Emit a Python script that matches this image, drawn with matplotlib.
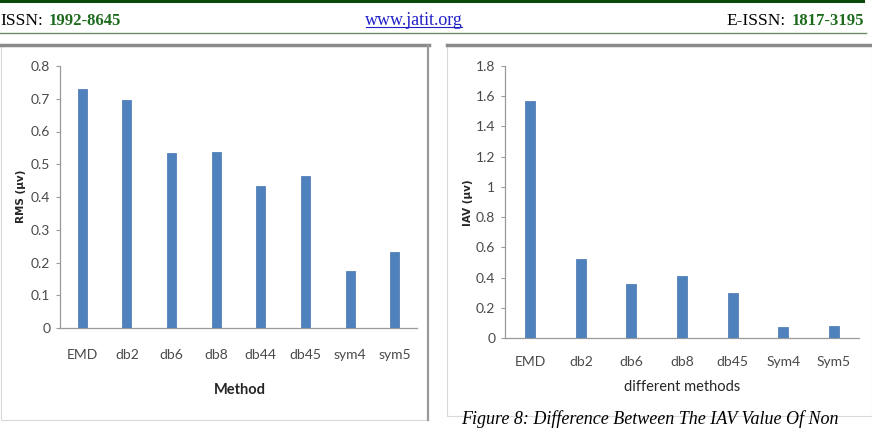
import matplotlib
matplotlib.use("Agg")
import matplotlib.pyplot as plt
from matplotlib.patches import Rectangle
from matplotlib.lines import Line2D

# ---- data ----
rms_methods = ["EMD", "db2", "db6", "db8", "db44", "db45", "sym4", "sym5"]
rms_values = [0.73, 0.695, 0.533, 0.538, 0.433, 0.465, 0.175, 0.232]
rms_yticks = [0, 0.1, 0.2, 0.3, 0.4, 0.5, 0.6, 0.7, 0.8]
rms_yticklabels = ["0", "0.1", "0.2", "0.3", "0.4", "0.5", "0.6", "0.7", "0.8"]

iav_methods = ["EMD", "db2", "db6", "db8", "db45", "Sym4", "Sym5"]
iav_values = [1.57, 0.52, 0.355, 0.41, 0.30, 0.075, 0.08]
iav_yticks = [0, 0.2, 0.4, 0.6, 0.8, 1.0, 1.2, 1.4, 1.6, 1.8]
iav_yticklabels = ["0", "0.2", "0.4", "0.6", "0.8", "1", "1.2", "1.4", "1.6", "1.8"]

W, H = 872, 428
fig = plt.figure(figsize=(W / 100, H / 100), dpi=100)
fig.patch.set_facecolor("white")

def fx(px):
    return px / W

def fy(py):
    return 1 - py / H

NARROW = ["Lato", "DejaVu Sans"]
SERIF = ["Liberation Serif", "DejaVu Serif"]
BAR = "#4F81BD"
AXC = "#9A9A9A"
TXT = "#4A4A4A"
HFS = 12.5

# ---- page header ----
fig.add_artist(Line2D([fx(0), fx(863)], [fy(1.2), fy(1.2)], color="#0B4A0B", lw=2.2))
fig.add_artist(Line2D([fx(0), fx(866)], [fy(32.5), fy(32.5)], color="#6E8B6E", lw=1.0))
fig.text(fx(0), fy(25), "ISSN:", family=SERIF, fontsize=HFS, color="black", va="baseline", ha="left")
fig.text(fx(49), fy(25), "1992-8645", family=SERIF, fontsize=HFS - 0.5, color="#1E6B1E",
         fontweight="bold", va="baseline", ha="left")
fig.text(fx(414), fy(25), "www.jatit.org", family=SERIF, fontsize=HFS + 0.5, color="#2020C8",
         va="baseline", ha="center")
fig.add_artist(Line2D([fx(366), fx(462)], [fy(27), fy(27)], color="#2020C8", lw=0.8))
fig.text(fx(726), fy(25), "E-ISSN:", family=SERIF, fontsize=HFS, color="black", va="baseline", ha="left")
fig.text(fx(792), fy(25), "1817-3195", family=SERIF, fontsize=HFS - 0.5, color="#1E6B1E",
         fontweight="bold", va="baseline", ha="left")

# ---- panel frames ----
def frame(x0, y0, x1, y1):
    fig.add_artist(Rectangle((fx(x0), fy(y1)), fx(x1 - x0), (y1 - y0) / H,
                             facecolor="white", edgecolor="#D9D9D9", lw=0.8,
                             transform=fig.transFigure, zorder=0))

frame(1, 45, 428, 420)
fig.add_artist(Line2D([fx(1), fx(429)], [fy(45), fy(45)], color="#8A8A8A", lw=2.5))
fig.add_artist(Line2D([fx(428), fx(428)], [fy(45), fy(420)], color="#9A9A9A", lw=1.6))
frame(447, 45, 872, 416)
fig.add_artist(Line2D([fx(447), fx(872)], [fy(45), fy(45)], color="#8A8A8A", lw=2.5))

fig.text(fx(461), fy(428), "Figure 8: Difference Between The IAV Value Of Non",
         family=SERIF, fontsize=13, style="italic", color="black", va="bottom", ha="left")

# ---- charts ----
def chart(rect_px, methods, values, yticks, yticklabels, ylim, xpad):
    x0, y0, x1, y1 = rect_px
    ax = fig.add_axes([fx(x0), fy(y1), fx(x1 - x0), (y1 - y0) / H])
    ax.set_facecolor("none")
    pos = list(range(len(methods)))
    ax.bar(pos, values, width=0.2, color=BAR, edgecolor="#4374B2", lw=0.5, zorder=3)
    ax.set_xlim(-0.5, len(methods) - 0.5)
    ax.set_ylim(*ylim)
    ax.set_yticks(yticks)
    ax.set_yticklabels(yticklabels)
    ax.set_xticks(pos)
    ax.set_xticklabels(methods)
    for s in ["top", "right"]:
        ax.spines[s].set_visible(False)
    for s in ["left", "bottom"]:
        ax.spines[s].set_color(AXC)
        ax.spines[s].set_linewidth(0.9)
    ax.tick_params(axis="y", length=3, width=0.8, color=AXC, pad=4)
    ax.tick_params(axis="x", length=0, pad=xpad)
    for lab in ax.get_yticklabels() + ax.get_xticklabels():
        lab.set_family(NARROW)
        lab.set_fontsize(10)
        lab.set_color(TXT)
    return ax

chart((60, 66, 417, 328), rms_methods, rms_values, rms_yticks, rms_yticklabels, (0, 0.8), 15)
chart((505, 66, 859, 338), iav_methods, iav_values, iav_yticks, iav_yticklabels, (0, 1.8), 13)

fig.text(fx(21), fy(196), "RMS (\u00b5v)", family=["DejaVu Sans"], fontsize=7.5,
         fontweight="bold", rotation=90, va="center", ha="center", color="#262626")
fig.text(fx(240), fy(390), "Method", family=NARROW, fontsize=10.5, fontweight="bold",
         va="center", ha="center", color="#262626")
fig.text(fx(468), fy(203), "IAV (\u00b5v)", family=["DejaVu Sans"], fontsize=7.5,
         fontweight="bold", rotation=90, va="center", ha="center", color="#262626")
fig.text(fx(682), fy(387), "different methods", family=NARROW, fontsize=10.5,
         va="center", ha="center", color="#262626")

fig.savefig("out.png", dpi=100, facecolor="white")
